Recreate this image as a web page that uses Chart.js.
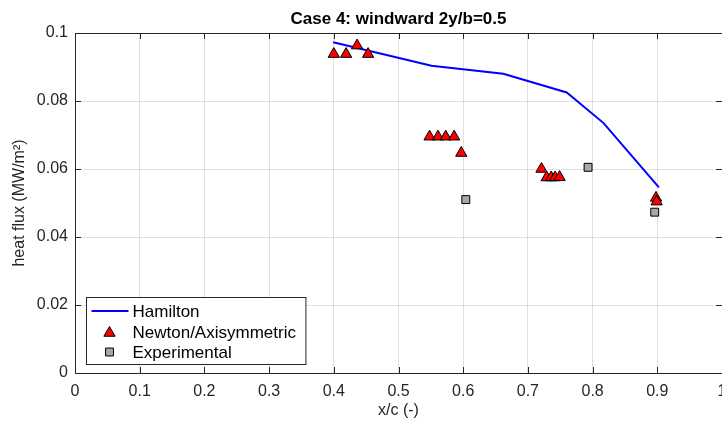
<!DOCTYPE html>
<html>
<head>
<meta charset="utf-8">
<script src="https://cdn.jsdelivr.net/npm/chart.js@4/dist/chart.umd.min.js"></script>
<style>
  html, body { margin: 0; padding: 0; overflow: hidden; background: #fff; }
  #wrap { position: absolute; left: 0; top: 0; width: 740px; height: 428px; }
</style>
</head>
<body>
<div id="wrap"><canvas id="heatChart" width="740" height="428"></canvas></div>
<script>
  // Hamilton curve
  const hamiltonX = [0.399, 0.551, 0.662, 0.760, 0.817, 0.9025];
  const hamiltonY = [0.0973, 0.0904, 0.0880, 0.0825, 0.0735, 0.0546];

  // Newton/Axisymmetric points
  const newtonX = [0.400, 0.419, 0.436, 0.453, 0.548, 0.561, 0.573, 0.586, 0.597, 0.721, 0.729, 0.736, 0.742, 0.749, 0.898, 0.899];
  const newtonY = [0.0938, 0.0938, 0.0963, 0.0938, 0.0695, 0.0695, 0.0695, 0.0695, 0.0647, 0.0600, 0.0575, 0.0575, 0.0575, 0.0576, 0.0515, 0.0504];

  // Experimental points
  const expX = [0.604, 0.793, 0.896];
  const expY = [0.0510, 0.0605, 0.0473];

  // tick labels
  const xTickLabels = ['0', '0.1', '0.2', '0.3', '0.4', '0.5', '0.6', '0.7', '0.8', '0.9', '1'];
  const yTickLabels = ['0', '0.02', '0.04', '0.06', '0.08', '0.1'];

  const seriesNames = ['Hamilton', 'Newton/Axisymmetric', 'Experimental'];
  const chartTitle = 'Case 4: windward 2y/b=0.5';

  const toPoints = (xs, ys) => xs.map((x, i) => ({ x: x, y: ys[i] }));
  const axisColor = '#262626';
  const fontFamily = '"Liberation Sans", Arial, Helvetica, sans-serif';

  // box around the axes, with inward tick marks
  const boxPlugin = {
    id: 'box',
    beforeDatasetsDraw(chart) {
      const { ctx, chartArea: a, scales } = chart;
      ctx.save();
      ctx.strokeStyle = axisColor;
      ctx.lineWidth = 1;
      ctx.beginPath();
      ctx.rect(Math.round(a.left) + 0.5, Math.round(a.top) + 0.5,
               Math.round(a.right - a.left), Math.round(a.bottom - a.top));
      scales.x.ticks.forEach(t => {
        const px = Math.round(scales.x.getPixelForValue(t.value)) + 0.5;
        ctx.moveTo(px, a.bottom); ctx.lineTo(px, a.bottom - 6);
        ctx.moveTo(px, a.top); ctx.lineTo(px, a.top + 6);
      });
      scales.y.ticks.forEach(t => {
        const py = Math.round(scales.y.getPixelForValue(t.value)) + 0.5;
        ctx.moveTo(a.left, py); ctx.lineTo(a.left + 6, py);
        ctx.moveTo(a.right, py); ctx.lineTo(a.right - 6, py);
      });
      ctx.stroke();
      ctx.restore();
    },
    afterDraw(chart) {
      const { ctx, chartArea: a } = chart;
      ctx.save();
      // title over the axes
      ctx.fillStyle = '#000';
      ctx.font = 'bold 17px ' + fontFamily;
      ctx.textAlign = 'center';
      ctx.textBaseline = 'alphabetic';
      ctx.fillText(chartTitle, (a.left + a.right) / 2, 24);

      // legend box in the lower left corner
      ctx.font = '17px ' + fontFamily;
      const textW = Math.max(...seriesNames.map(s => ctx.measureText(s).width));
      const bx = Math.round(a.left) + 11.5, by = Math.round(a.bottom) - 75.5;
      const bw = 46 + textW + 10, bh = 67;
      ctx.fillStyle = '#fff';
      ctx.fillRect(bx, by, bw, bh);
      ctx.strokeStyle = axisColor;
      ctx.lineWidth = 1;
      ctx.strokeRect(bx, by, bw, bh);
      const rows = [by + 13.5, by + 34.5, by + 54.5];
      const ds = chart.data.datasets;
      // line sample
      ctx.strokeStyle = ds[0].borderColor;
      ctx.lineWidth = 2;
      ctx.beginPath();
      ctx.moveTo(bx + 5, rows[0]); ctx.lineTo(bx + 42, rows[0]);
      ctx.stroke();
      // marker samples
      ctx.lineWidth = 1;
      ctx.strokeStyle = '#000';
      ctx.fillStyle = ds[1].pointBackgroundColor;
      Chart.helpers.drawPoint(ctx, { pointStyle: 'triangle', radius: ds[1].pointRadius, borderWidth: 1 }, bx + 23, rows[1] + 1);
      ctx.fillStyle = ds[2].pointBackgroundColor;
      Chart.helpers.drawPoint(ctx, { pointStyle: 'rect', radius: ds[2].pointRadius, borderWidth: 1 }, bx + 23, rows[2]);
      // labels
      ctx.fillStyle = '#000';
      ctx.textAlign = 'left';
      ctx.textBaseline = 'middle';
      seriesNames.forEach((s, i) => ctx.fillText(s, bx + 46, rows[i] + 1));
      ctx.restore();
    }
  };

  const ctx = document.getElementById('heatChart').getContext('2d');

  const heatChart = new Chart(ctx, {
    type: 'scatter',
    data: {
      datasets: [{
        type: 'line',
        label: seriesNames[0],
        data: toPoints(hamiltonX, hamiltonY),
        borderColor: '#0000ff',
        borderWidth: 2,
        pointRadius: 0,
        fill: false,
        tension: 0,
        order: 3
      }, {
        label: seriesNames[1],
        data: toPoints(newtonX, newtonY),
        pointStyle: 'triangle',
        pointRadius: 6.5,
        pointBackgroundColor: '#ff0000',
        pointBorderColor: '#000000',
        pointBorderWidth: 1,
        order: 2
      }, {
        label: seriesNames[2],
        data: toPoints(expX, expY),
        pointStyle: 'rect',
        pointRadius: 5.6,
        pointBackgroundColor: '#a8a8a8',
        pointBorderColor: '#000000',
        pointBorderWidth: 1,
        order: 1
      }]
    },
    options: {
      responsive: false,
      animation: false,
      layout: { padding: { top: 33, right: 18, left: 0, bottom: 0 } },
      plugins: {
        legend: { display: false },
        tooltip: { enabled: false }
      },
      scales: {
        x: {
          type: 'linear',
          min: 0, max: 1,
          afterFit: s => { s.height = 55; },
          ticks: {
            stepSize: 0.1,
            padding: 9,
            color: axisColor,
            font: { family: fontFamily, size: 16 },
            maxRotation: 0,
            autoSkip: false,
            callback: (v, i) => xTickLabels[i]
          },
          grid: { color: 'rgba(38,38,38,0.14)', drawTicks: false },
          border: { display: false },
          title: {
            display: true,
            text: 'x/c (-)',
            color: axisColor,
            font: { family: fontFamily, size: 16 },
            padding: { top: 0, bottom: 8 }
          }
        },
        y: {
          type: 'linear',
          min: 0, max: 0.1,
          afterFit: s => { s.width = 75; },
          ticks: {
            stepSize: 0.02,
            padding: 7,
            color: axisColor,
            font: { family: fontFamily, size: 16 },
            callback: (v, i) => yTickLabels[i]
          },
          grid: { color: 'rgba(38,38,38,0.14)', drawTicks: false },
          border: { display: false },
          title: {
            display: true,
            text: 'heat flux (MW/m\u00B2)',
            color: axisColor,
            font: { family: fontFamily, size: 16 },
            padding: { top: 10, bottom: 0 }
          }
        }
      }
    },
    plugins: [boxPlugin]
  });
</script>
</body>
</html>
